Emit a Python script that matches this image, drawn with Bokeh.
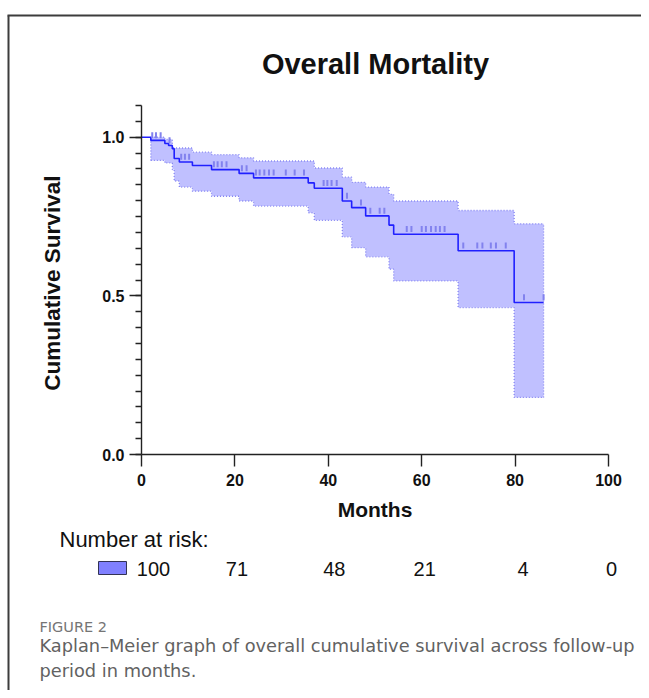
import numpy as np
from bokeh.plotting import figure
from bokeh.models import Range1d, FixedTicker, PrintfTickFormatter, ColumnDataSource
from bokeh.core.properties import value
from bokeh.embed import file_html
from bokeh.resources import INLINE

# ---------------- data ----------------
title_text = "Overall Mortality"
x_label = "Months"
y_label = "Cumulative  Survival"

# Kaplan-Meier step function (time of change, survival after change)
km_times = [0, 2, 5, 5.8, 6.6, 7, 8.1, 10.9, 15, 20.9, 24, 35.7, 37, 43, 45, 48, 53, 54, 67.8, 79.8, 86.1]
km_surv  = [1.0, 0.99, 0.98, 0.974, 0.964, 0.933, 0.922, 0.911, 0.898, 0.886, 0.872, 0.856, 0.839,
            0.799, 0.778, 0.752, 0.723, 0.694, 0.642, 0.479, 0.479]
ci_upper = [1.0, 1.0, 0.993, 0.993, 0.966, 0.966, 0.966, 0.953, 0.945, 0.935, 0.925, 0.925, 0.903,
            0.874, 0.858, 0.843, 0.82, 0.799, 0.769, 0.727, 0.727]
ci_lower = [1.0, 0.927, 0.919, 0.919, 0.898, 0.862, 0.843, 0.830, 0.814, 0.799, 0.783, 0.762, 0.738,
            0.686, 0.652, 0.623, 0.584, 0.547, 0.463, 0.180, 0.180]

censor_times = [2.3, 3.1, 4.1, 6.0, 8.5, 9.3, 10.2, 15.5, 16.3, 17.2, 18.2, 21.5, 22.5,
                24.5, 25.3, 26.3, 27.3, 28.3, 30.9, 32.8, 34.8, 39.0, 39.8, 40.7, 41.8,
                44.0, 47.0, 49.0, 51.0, 52.0, 56.8, 57.8, 60.0, 60.9, 62.0, 63.0, 63.9, 64.9,
                68.9, 71.9, 73.0, 74.8, 75.9, 78.0, 81.9, 86.1]

x_ticks = [0, 20, 40, 60, 80, 100]
y_ticks = [0.0, 0.5, 1.0]

risk_title = "Number at risk:"
risk_times = [0, 20, 40, 60, 80, 100]
risk_counts = [100, 71, 48, 21, 4, 0]

caption_head = "FIGURE 2"
caption_lines = ["Kaplan\u2013Meier graph of overall cumulative survival across follow-up",
                 "period in months."]

# ---------------- geometry (page pixels) ----------------
W, H = 641, 690
FL, FR, FT, FB = 141, 608, 105, 454     # where the survival axes sit
X0, X1 = 0, 100
Y0, Y1 = 0, 1.1

def xa(px):
    return X0 + (px - FL) / (FR - FL) * (X1 - X0)

def ya(py):
    return Y0 + (FB - py) / (FB - FT) * (Y1 - Y0)

FONT = value("Liberation Sans")
CAP_FONT = value("DejaVu Sans")
INK = "#111111"

p = figure(width=W, height=H, output_backend="svg", toolbar_location=None,
           x_range=Range1d(xa(0), xa(W)), y_range=Range1d(ya(H), ya(0)), title=None,
           min_border=0)
p.min_border_left = p.min_border_right = p.min_border_top = p.min_border_bottom = 0
p.grid.visible = False
p.outline_line_color = None
p.background_fill_color = "white"
p.border_fill_color = "white"

# confidence band
bt = km_times[1:]
bu = ci_upper[1:]
bl = ci_lower[1:]
p.varea_step(x=bt, y1=bl, y2=bu, step_mode="after", fill_color="#c0c0ff", fill_alpha=1.0)
band_line = dict(line_color="#8686f2", line_width=1.3, line_dash="1 2")
p.step(bt, bu, mode="after", **band_line)
p.step(bt, bl, mode="after", **band_line)
p.segment(x0=[bt[0], bt[-1]], y0=[bl[0], bl[-1]], x1=[bt[0], bt[-1]], y1=[bu[0], bu[-1]], **band_line)

# KM curve
p.step(km_times, km_surv, mode="after", line_color="#2020ff", line_width=1.6)

# censor ticks
kt = np.array(km_times)
ks = np.array(km_surv)
ct = np.array(censor_times)
lvl = ks[np.searchsorted(kt, ct, side="right") - 1]
p.segment(x0=ct, y0=lvl + 0.007, x1=ct, y1=lvl + 0.026, line_color="#8282ee", line_width=2)

# axes (drawn at the data origin, limited to the data span)
for ax in (p.xaxis[0], p.yaxis[0]):
    ax.fixed_location = 0
    ax.axis_line_color = "#222222"
    ax.axis_line_width = 1.4
    ax.major_tick_line_color = "#222222"
    ax.major_tick_line_width = 1.4
    ax.major_tick_out = 12
    ax.major_tick_in = 0
    ax.major_label_text_font = "Liberation Sans"
    ax.major_label_text_font_style = "bold"
    ax.major_label_text_font_size = "16px"
    ax.major_label_text_color = INK
    ax.axis_label_text_font = "Liberation Sans"
    ax.axis_label_text_font_style = "bold"
    ax.axis_label_text_color = INK

p.xaxis.bounds = (X0, X1)
p.xaxis.ticker = FixedTicker(ticks=x_ticks, minor_ticks=[])
p.xaxis.minor_tick_out = 0
p.xaxis.minor_tick_in = 0
p.xaxis.major_label_standoff = 7
p.xaxis.axis_label = x_label
p.xaxis.axis_label_text_font_size = "21px"
p.xaxis.axis_label_standoff = 9

minor_y = [round(0.05 * k, 2) for k in range(0, 23)]
p.yaxis.bounds = (Y0, Y1)
p.yaxis.ticker = FixedTicker(ticks=y_ticks, minor_ticks=minor_y)
p.yaxis.formatter = PrintfTickFormatter(format="%.1f")
p.yaxis.minor_tick_out = 6
p.yaxis.minor_tick_in = 0
p.yaxis.minor_tick_line_color = "#222222"
p.yaxis.minor_tick_line_width = 1.3
p.yaxis.major_label_standoff = 5
p.yaxis.axis_label = y_label
p.yaxis.axis_label_text_font_size = "22.5px"
p.yaxis.axis_label_standoff = 34

# title
p.text(x=[xa(375)], y=[ya(63.5)], text=[title_text], text_align="center",
       text_baseline="middle", text_font=FONT, text_font_style="bold",
       text_font_size="29px", text_color=INK)

# number at risk
p.text(x=[xa(59)], y=[ya(539)], text=[risk_title], text_align="left", text_baseline="middle",
       text_font=FONT, text_font_size="22px", text_color=INK)
risk_src = ColumnDataSource(dict(t=risk_times, n=[str(v) for v in risk_counts],
                                 off=[12, 2, 6, 3, 8, 3]))
p.text(x="t", y=ya(568), text="n", x_offset="off", source=risk_src, text_align="center",
       text_baseline="middle", text_font=FONT, text_font_size="20px", text_color=INK)
p.quad(left=[xa(98)], right=[xa(126)], top=[ya(561)], bottom=[ya(574)],
       fill_color="#8080ff", line_color="#333355", line_width=1)

# caption
p.text(x=[xa(39)], y=[ya(626)], text=[caption_head], text_align="left", text_baseline="middle",
       text_font=CAP_FONT, text_font_size="14.5px", text_color="#757575")
p.text(x=[xa(39)] * len(caption_lines), y=[ya(645 + 25 * i) for i in range(len(caption_lines))],
       text=caption_lines, text_align="left", text_baseline="middle",
       text_font=CAP_FONT, text_font_size="17.8px", text_color="#626262")

# page frame border (top and left edges)
p.segment(x0=[xa(7), xa(8)], y0=[ya(15), ya(15)], x1=[xa(W), xa(8)], y1=[ya(15), ya(H)],
          line_color="#3c3c3c", line_width=2)

open("out.html", "w").write(file_html(p, INLINE))
